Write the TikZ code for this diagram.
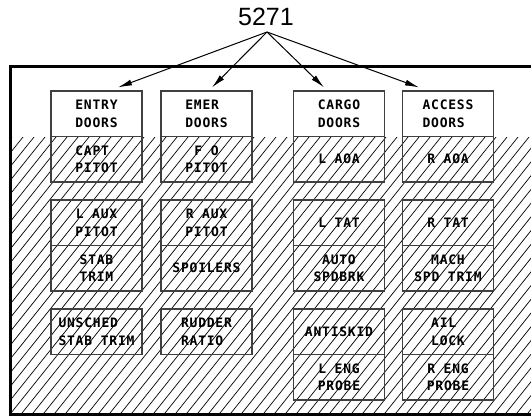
\documentclass[tikz,border=0pt]{standalone}
\usepackage{fontspec}
\usetikzlibrary{arrows.meta}
\newfontfamily\panelfont[LetterSpace=6]{DejaVu Sans Mono}
\newfontfamily\numfont{Liberation Sans}
\tikzstyle{cellbox} = [
    rectangle,
    minimum width=91pt,
    minimum height=45.5pt,
    inner sep=0pt,
    align=center,
    draw=black!75,
    line width=1.2pt,
    font={\panelfont\bfseries\fontsize{13}{17.5}\selectfont}
]
\tikzstyle{frame} = [line width=3pt, line cap=rect]
\tikzstyle{hatch} = [line width=0.7pt]
\tikzstyle{arrow} = [line width=1pt,->,>={Latex[length=14pt,width=6pt]}]

\begin{document}
\begin{tikzpicture}[x=1pt, y=-1pt, node distance=45.5pt]
\useasboundingbox (0,0) rectangle (531,416);

% hatched part of the panel
\begin{scope}
\clip (11,137) rectangle (531,413);
\foreach \hx in {-220,-209,...,540}
  \draw [hatch] (\hx,413) -- ++(221,-276);
\end{scope}

% panel outline, open on the right
\draw [frame] (531,66.5) -- (10.5,66.5) -- (10.5,414) -- (531,414);

\node (title) [font=\numfont\fontsize{25}{30}\selectfont] at (266,17) {5271};
\coordinate (src) at (267,32);

% column 1
\node (entry) [cellbox] at (96.5,113.75) {ENTRY\\DOORS};
\node (capt) [cellbox, below of=entry, align=left] {CAPT\\PITOT};
\node (laux) [cellbox] at (96.5,222.75) {L AUX\\PITOT};
\node (stab) [cellbox, below of=laux] {STAB\\TRIM};
\node (unsched) [cellbox, align=left] at (96.5,331.75) {UNSCHED\\STAB TRIM};

% column 2
\node (emer) [cellbox, align=left] at (206.5,113.75) {EMER\\DOORS};
\node (fo) [cellbox, below of=emer] {F O\\PITOT};
\node (raux) [cellbox] at (206.5,222.75) {R AUX\\PITOT};
\node (spoilers) [cellbox, below of=raux] {SPOILERS};
\node (rudder) [cellbox, align=left] at (206.5,331.75) {RUDDER\\RATIO};

% column 3
\node (cargo) [cellbox] at (339,113.75) {CARGO\\DOORS};
\node (laoa) [cellbox, below of=cargo] {L AOA};
\node (ltat) [cellbox] at (339,222.75) {L TAT};
\node (auto) [cellbox, below of=ltat] {AUTO\\SPDBRK};
\node (antiskid) [cellbox] at (339,331.75) {ANTISKID};
\node (leng) [cellbox, below of=antiskid] {L ENG\\PROBE};

% column 4
\node (access) [cellbox, align=left] at (448,113.75) {ACCESS\\DOORS};
\node (raoa) [cellbox, below of=access] {R AOA};
\node (rtat) [cellbox] at (448,222.75) {R TAT};
\node (mach) [cellbox, below of=rtat] {MACH\\SPD TRIM};
\node (ail) [cellbox, align=left] at (448,331.75) {AIL\\LOCK};
\node (reng) [cellbox, below of=ail] {R ENG\\PROBE};

\draw [arrow] (src) -- ([xshift=21.5pt,yshift=3pt]entry.north);
\draw [arrow] (src) -- ([xshift=5.5pt,yshift=3pt]emer.north);
\draw [arrow] (src) -- ([xshift=-15pt,yshift=3pt]cargo.north);
\draw [arrow] (src) -- ([xshift=-29pt,yshift=3pt]access.north);

\end{tikzpicture}
\end{document}
